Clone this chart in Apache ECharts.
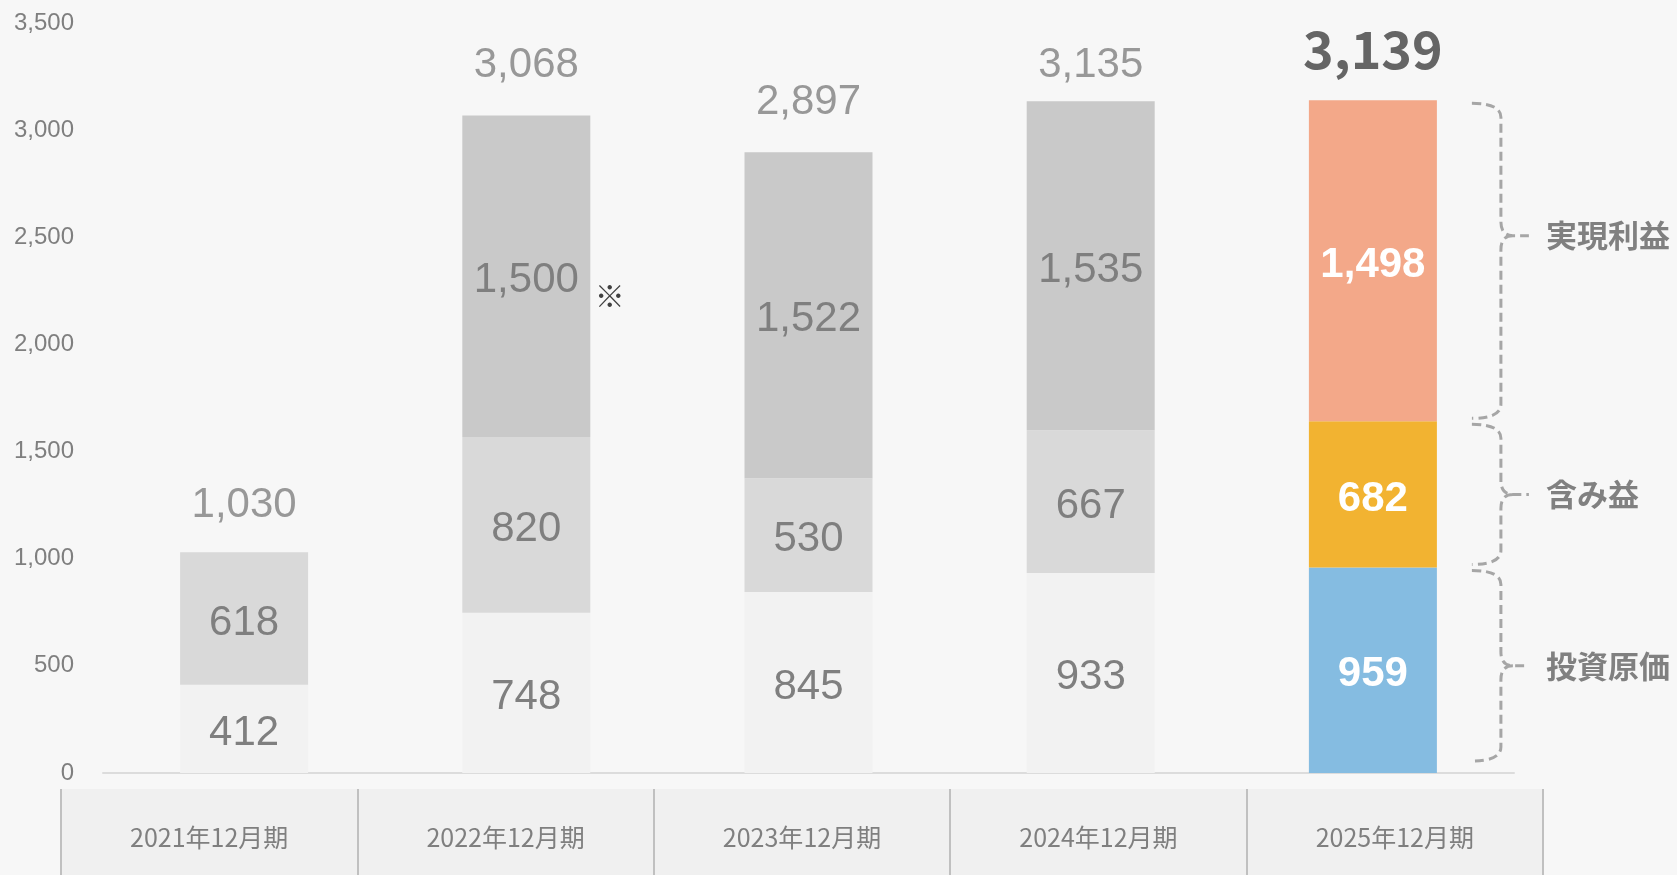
<!DOCTYPE html>
<html>
<head>
<meta charset="utf-8">
<title>投資ポートフォリオ推移</title>
<script src="https://cdn.jsdelivr.net/npm/echarts@6/dist/echarts.min.js"></script>
<style>
  html, body { margin: 0; padding: 0; background: #f7f7f7; }
  #chart { width: 1677px; height: 875px; }
</style>
</head>
<body>
<div id="chart"></div>
<script>
// Fiscal periods and stacked components (単位: 百万円)
const categories = ['2021年12月期', '2022年12月期', '2023年12月期', '2024年12月期', '2025年12月期'];
const seriesNames = ['投資原価', '含み益', '実現利益'];
const investmentCost = [412, 748, 845, 933, 959];
const unrealizedGain = [618, 820, 530, 667, 682];
const realizedGain = [null, 1500, 1522, 1535, 1498];
const totals = [1030, 3068, 2897, 3135, 3139];
const notes = ['', '※', '', '', ''];
const yMax = 3500;
const yStep = 500;

const pastColors = ['#f2f2f2', '#d9d9d9', '#c9c9c9'];
const currentColors = ['#85bce1', '#f2b331', '#f3a889'];
const greyText = '#7f7f7f';
const numFont = '"Liberation Sans", Arial, sans-serif';
const jpFont = '"Noto Sans CJK JP", sans-serif';
// vertical gap between each stack top and its total label
const totalLift = [47, 50, 50, 36, 51];

const segments = [investmentCost, unrealizedGain, realizedGain];
const last = categories.length - 1;
const fmt = v => Number(v).toLocaleString('en-US');

// Stacked bars; the latest period is highlighted in colour
const barSeries = segments.map((vals, s) => ({
  name: seriesNames[s],
  type: 'bar',
  stack: 'total',
  barWidth: 128,
  xAxisIndex: 0,
  yAxisIndex: 0,
  itemStyle: { color: pastColors[s] },
  label: {
    show: true,
    position: 'inside',
    offset: [0, 4.5],
    fontFamily: numFont,
    fontSize: 42,
    color: greyText,
    formatter: p => {
      const note = s === 2 ? notes[p.dataIndex] : '';
      return note ? `{pad|}{v|${fmt(p.value)}}{note|${note}}` : fmt(p.value);
    },
    rich: {
      pad: { width: 46 },
      v: { fontFamily: numFont, fontSize: 42, color: greyText, lineHeight: 42, padding: [0, 0, 18, 0] },
      note: { width: 46, align: 'right', fontFamily: jpFont, fontSize: 30, color: '#404040',
              lineHeight: 28, verticalAlign: 'bottom' }
    }
  },
  data: vals.map((v, i) => {
    if (v == null) return '-';
    if (i === last) {
      return { value: v, itemStyle: { color: currentColors[s] },
               label: { color: '#ffffff', fontWeight: 'bold' } };
    }
    if (s === 2 && notes[i]) {
      return { value: v, label: { offset: [0, 13] } };
    }
    return v;
  })
}));

// Total above each stack
const totalSeries = {
  name: '合計',
  type: 'scatter',
  xAxisIndex: 0,
  yAxisIndex: 0,
  symbolSize: 1,
  itemStyle: { color: 'rgba(0,0,0,0)' },
  silent: true,
  z: 5,
  label: {
    show: true,
    position: 'inside',
    fontFamily: numFont,
    fontSize: 42,
    color: greyText,
    formatter: p => fmt(p.value)
  },
  data: totals.map((v, i) => i === last
    ? { value: v, label: { offset: [0, -totalLift[i]], fontFamily: jpFont, fontWeight: 'bold',
                           fontSize: 52, color: '#404040' } }
    : { value: v, label: { offset: [0, -totalLift[i]] } })
};

// Dashed curly braces naming each component of the latest stack
const tipAt = [0.5, 0.5, 0.42];
const braceData = seriesNames.map((name, s) => {
  let lo = 0;
  for (let k = 0; k < s; k++) lo += segments[k][last];
  return [last, lo, lo + segments[s][last], s];
});

const braceSeries = {
  type: 'custom',
  xAxisIndex: 0,
  yAxisIndex: 0,
  silent: true,
  clip: false,
  z: 6,
  data: braceData,
  renderItem: (params, api) => {
    const s = api.value(3);
    const top = api.coord([api.value(0), api.value(2)]);
    const bot = api.coord([api.value(0), api.value(1)]);
    const x0 = top[0] + 99, x1 = x0 + 29, xt = x1 + 28, r = 14;
    const yT = top[1] + 3;
    const yB = bot[1] - (api.value(1) === 0 ? 12 : 3);
    const yM = yT + (yB - yT) * tipAt[s];
    const d = `M${x0} ${yT} Q${x1} ${yT} ${x1} ${yT + r} L${x1} ${yM - r} ` +
              `Q${x1} ${yM} ${x1 + 12} ${yM} L${xt} ${yM} ` +
              `M${x1 + 12} ${yM} Q${x1} ${yM} ${x1} ${yM + r} L${x1} ${yB - r} ` +
              `Q${x1} ${yB} ${x0} ${yB}`;
    return {
      type: 'group',
      children: [
        { type: 'path', shape: { pathData: d },
          style: { fill: 'none', stroke: '#a6a6a6', lineWidth: 3, lineDash: [9, 5] } },
        { type: 'text', x: xt + 17, y: yM,
          style: { text: seriesNames[s], align: 'left', verticalAlign: 'middle',
                   fontFamily: jpFont, fontWeight: 'bold', fontSize: 31, fill: '#808080' } }
      ]
    };
  }
};

const chart = echarts.init(document.getElementById('chart'), null, { renderer: 'canvas' });
chart.setOption({
  backgroundColor: '#f7f7f7',
  animation: false,
  grid: [
    { left: 103, right: 163, top: 23, bottom: 102 },
    { left: 61, right: 134, top: 789, bottom: 0, show: true, backgroundColor: '#f0f0f0', borderWidth: 0 }
  ],
  xAxis: [
    {
      type: 'category', gridIndex: 0, data: categories,
      axisLine: { lineStyle: { color: '#dcdcdc', width: 2 } },
      axisTick: { show: false },
      axisLabel: { show: false }
    },
    {
      type: 'category', gridIndex: 1, data: categories, position: 'top',
      axisLine: { show: true, lineStyle: { color: 'rgba(0,0,0,0)' } },
      axisTick: { show: true, inside: true, length: 86, lineStyle: { color: '#c0c0c0', width: 2 } },
      splitLine: { show: true, lineStyle: { color: '#c0c0c0', width: 2 } },
      axisLabel: { inside: true, margin: 48, verticalAlign: 'middle',
                   fontFamily: jpFont, fontSize: 25, color: greyText }
    }
  ],
  yAxis: [
    {
      type: 'value', gridIndex: 0, min: 0, max: yMax, interval: yStep,
      axisLine: { show: false },
      axisTick: { show: false },
      splitLine: { show: false },
      axisLabel: { margin: 29, fontFamily: numFont, fontSize: 24, color: greyText,
                   padding: [5, 0, 0, 0], formatter: v => fmt(v) }
    },
    { type: 'value', gridIndex: 1, show: false }
  ],
  series: [...barSeries, totalSeries, braceSeries]
});
</script>
</body>
</html>
